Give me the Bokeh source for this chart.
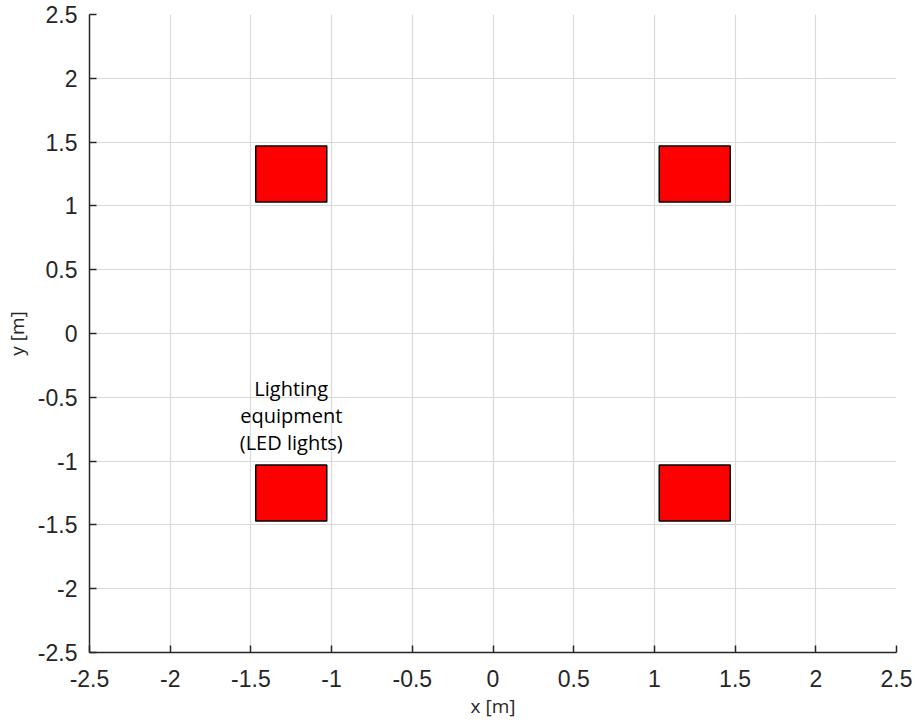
from bokeh.plotting import figure
from bokeh.models import Range1d, FixedTicker, ColumnDataSource
from bokeh.core.properties import value
from bokeh.embed import file_html
from bokeh.resources import INLINE

# Data
light_left = [-1.47, 1.03, -1.47, 1.03]
light_right = [-1.03, 1.47, -1.03, 1.47]
light_bottom = [1.03, 1.03, -1.47, -1.47]
light_top = [1.47, 1.47, -1.03, -1.03]
label_x = [-1.25]
label_y = [-0.96]
label_text = ["Lighting\nequipment\n(LED lights)"]
ticks = [-2.5, -2, -1.5, -1, -0.5, 0, 0.5, 1, 1.5, 2, 2.5]
tick_labels = ["-2.5", "-2", "-1.5", "-1", "-0.5", "0", "0.5", "1", "1.5", "2", "2.5"]

p = figure(width=915, height=724, output_backend="svg", toolbar_location=None,
           x_range=Range1d(-2.5, 2.5), y_range=Range1d(-2.5, 2.5),
           min_border_left=89, min_border_right=19, min_border_top=14, min_border_bottom=72)
p.outline_line_color = None
p.background_fill_color = "white"
p.border_fill_color = "white"

overrides = {t: s for t, s in zip(ticks, tick_labels)}
for ax in (p.xaxis[0], p.yaxis[0]):
    ax.ticker = FixedTicker(ticks=ticks)
    ax.major_label_overrides = overrides
    ax.major_tick_in = 7
    ax.major_tick_out = 0
    ax.minor_tick_line_color = None
    ax.axis_line_color = "#262626"
    ax.axis_line_width = 1.5
    ax.major_tick_line_color = "#262626"
    ax.major_tick_line_width = 1.5
    ax.major_label_text_font = "Liberation Sans"
    ax.major_label_text_font_size = "23px"
    ax.major_label_text_color = "#262626"
    ax.axis_label_text_font = "Open Sans"
    ax.axis_label_text_font_size = "19px"
    ax.axis_label_text_font_style = "normal"
    ax.axis_label_text_color = "#262626"

p.xaxis.axis_label = "x [m]"
p.yaxis.axis_label = "y [m]"
p.xaxis.major_label_standoff = 17
p.yaxis.major_label_standoff = 12
p.xaxis.axis_label_standoff = 3
p.yaxis.axis_label_standoff = 5

for g in (p.xgrid[0], p.ygrid[0]):
    g.ticker = FixedTicker(ticks=ticks)
    g.grid_line_color = "#d9d9d9"
    g.grid_line_width = 1.2

src = ColumnDataSource(dict(left=light_left, right=light_right, bottom=light_bottom, top=light_top))
p.quad(left="left", right="right", bottom="bottom", top="top", source=src,
       fill_color="#ff0000", line_color="black", line_width=1.5)

p.text(x=label_x, y=label_y, text=label_text, text_font=value("Open Sans"),
       text_font_size="20px", text_align="center", text_baseline="bottom",
       text_color="black", text_line_height=1.0)

open("out.html", "w").write(file_html(p, INLINE))
